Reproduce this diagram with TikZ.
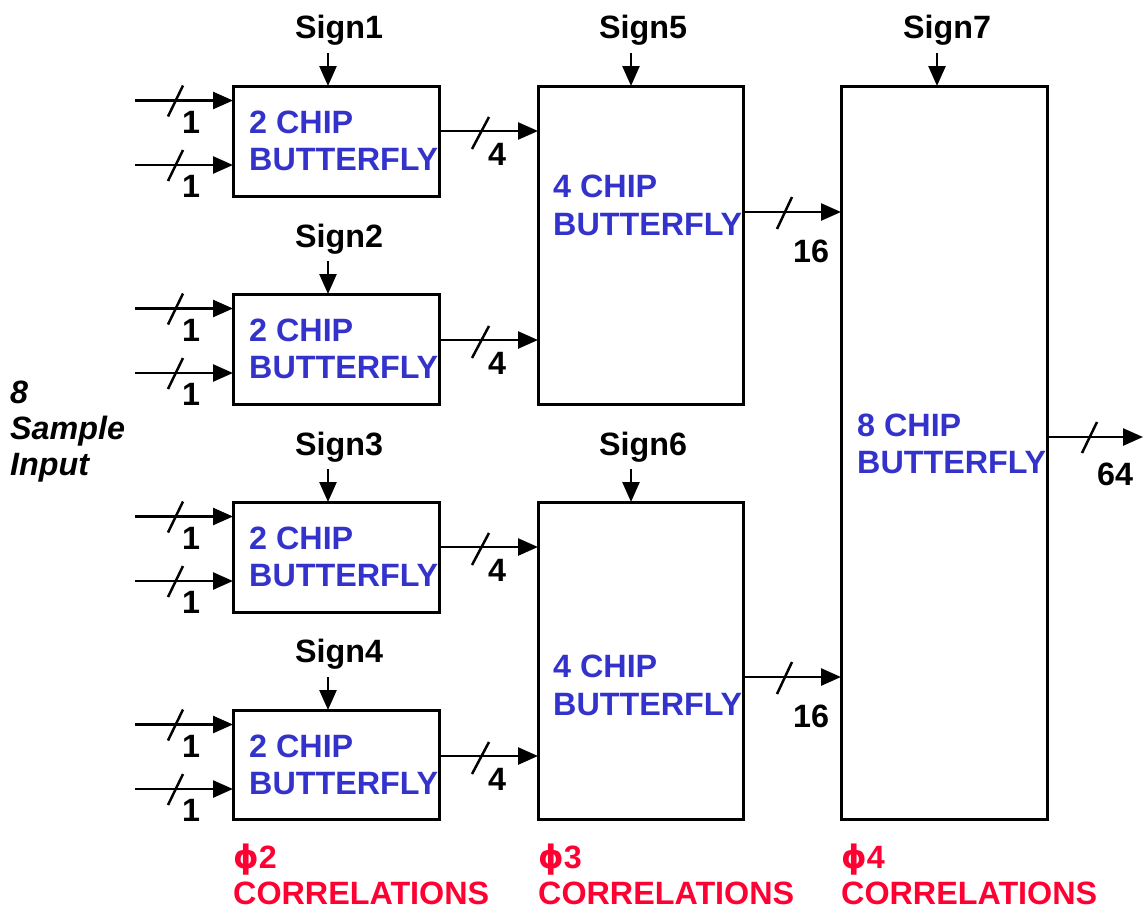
\documentclass[tikz,border=0pt]{standalone}
\usepackage{fontspec}
\setmainfont{Liberation Sans}
\newfontfamily\dvsans{DejaVu Sans}
\usetikzlibrary{arrows.meta}
\definecolor{bfblue}{RGB}{51,51,204}
\definecolor{corred}{RGB}{255,0,51}
\begin{document}
\begin{tikzpicture}[x=1pt,y=-1pt,
  font=\fontsize{32.3}{37.5}\selectfont\bfseries,
  box/.style={draw,line width=3pt,inner sep=0pt,outer sep=0pt,minimum width=206pt},
  bftext/.style={anchor=base west,inner sep=0pt,text=bfblue},
  arr/.style={line width=2.5pt,-{Triangle[length=20pt,width=17pt]}},
  sarr/.style={line width=2.5pt,-{Triangle[length=20pt,width=17pt]}},
  busslash/.style={line width=2.5pt},
  num/.style={inner sep=0pt,anchor=center},
  signlbl/.style={inner sep=0pt,anchor=base},
  corr/.style={anchor=base west,inner sep=0pt,text=corred},
  sidetext/.style={anchor=base west,inner sep=0pt,font=\fontsize{32.3}{37.5}\selectfont\bfseries\itshape}]
\useasboundingbox (0,0) rectangle (1145,914);

% boxes
\node[box,minimum height=110pt] (b1) at (336,141) {};
\node[box,minimum height=110pt] (b2) at (336,349) {};
\node[box,minimum height=110pt] (b3) at (336,557) {};
\node[box,minimum height=109pt] (b4) at (336,764.5) {};
\node[box,minimum width=205pt,minimum height=318pt] (A) at (640.5,245) {};
\node[box,minimum width=205pt,minimum height=317pt] (B) at (640.5,660.5) {};
\node[box,minimum height=733pt] (C) at (944,452.5) {};

% box texts
\foreach \t/\k in {86/1,294/2,502/3,710/4}{
  \node[bftext] (t\k a) at (249,\t+47.5) {2 CHIP};
  \node[bftext] (t\k b) at (249,\t+84) {BUTTERFLY};
}
\node[bftext] (tAa) at (553,197.5) {4 CHIP};
\node[bftext] (tAb) at (553,235) {BUTTERFLY};
\node[bftext] (tBa) at (553,677.5) {4 CHIP};
\node[bftext] (tBb) at (553,715) {BUTTERFLY};
\node[bftext] (tCa) at (857,436) {8 CHIP};
\node[bftext] (tCb) at (857,473) {BUTTERFLY};

% sign labels and arrows
\node[signlbl] (s1) at (339,38) {Sign1};
\node[signlbl] (s2) at (339,247) {Sign2};
\node[signlbl] (s3) at (339,455) {Sign3};
\node[signlbl] (s4) at (339,662) {Sign4};
\node[signlbl] (s5) at (643,38) {Sign5};
\node[signlbl] (s6) at (643,455) {Sign6};
\node[signlbl] (s7) at (947,38) {Sign7};
\foreach \b/\dx in {b1/-8,b2/-8,b3/-8,b4/-8,A/-9.5,B/-9.5,C/-7}{
  \coordinate (tip\b) at ([xshift=\dx pt]\b.north);
  \draw[sarr] ([yshift=33pt]tip\b) -- (tip\b);
}

% inputs
\foreach \b/\t in {b1/86,b2/294,b3/502,b4/710}{
  \foreach \d/\k in {14.5/1,79/2}{
    \coordinate (in\b\k) at (135,\t+\d);
    \draw[arr] (in\b\k) -- (in\b\k -| \b.west);
    \draw[busslash] (168,\t+\d+16) -- (183,\t+\d-15);
    \node[num] (n\b\k) at (191,\t+\d+21.5) {1};
  }
}

% 2-chip outputs
\foreach \b/\y/\tg in {b1/131/A,b2/340/A,b3/547/B,b4/756/B}{
  \draw[arr] (\b.east |- 0,\y) -- (\tg.west |- 0,\y);
  \draw[busslash] (472,\y+18) -- (489,\y-14);
  \node[num] (m\b) at (497,\y+23) {4};
}

% 4-chip outputs
\foreach \b/\y in {A/212,B/677}{
  \draw[arr] (\b.east |- 0,\y) -- (C.west |- 0,\y);
  \draw[busslash] (777,\y+17) -- (792,\y-15);
  \node[num] (p\b) at (811,\y+39) {16};
}

% 8-chip output
\coordinate (out) at (1143,437);
\draw[arr] (C.east |- out) -- (out);
\draw[busslash] (1082,453) -- (1097,422);
\node[num] (q) at (1115,474) {64};

% side text
\node[sidetext] (si1) at (10,403) {8};
\node[sidetext] (si2) at (10,439) {Sample};
\node[sidetext] (si3) at (10,475) {Input};

% correlation labels
\node[corr] (c2a) at (233,868) {{\dvsans ϕ}2};
\node[corr] (c2b) at (233,904) {CORRELATIONS};
\node[corr] (c3a) at (538,868) {{\dvsans ϕ}3};
\node[corr] (c3b) at (538,904) {CORRELATIONS};
\node[corr] (c4a) at (841,868) {{\dvsans ϕ}4};
\node[corr] (c4b) at (841,904) {CORRELATIONS};
\end{tikzpicture}
\end{document}
